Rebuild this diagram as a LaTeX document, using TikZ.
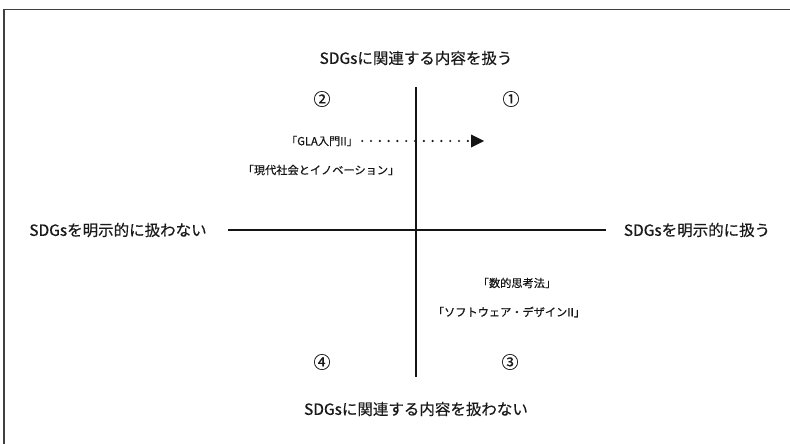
\documentclass[tikz,border=0pt]{standalone}
\usepackage{fontspec}
\setmainfont{Noto Sans CJK JP}
\newfontfamily\jpfont[FakeBold=0.35]{Noto Sans CJK JP}
\usetikzlibrary{arrows.meta}
\begin{document}
\begin{tikzpicture}[x=1pt,y=-1pt,
  axislabel/.style={font=\jpfont\fontsize{15.5}{18}\selectfont, text=black!90, inner sep=0pt},
  course/.style={font=\jpfont\fontsize{11.2}{13}\selectfont, text=black!92, inner sep=0pt},
  quadnum/.style={font=\jpfont\fontsize{17}{19}\selectfont, text=black!90, inner sep=0pt},
  axisline/.style={line width=1.5pt, black!92},
  framebox/.style={line width=1.2pt, black!75},
  dotarrow/.style={line width=2.4pt, line cap=round, dash pattern=on 0pt off 8.8pt, black!90}
]
\useasboundingbox (0,0) rectangle (790,444);
\fill[white] (0,0) rectangle (790,444);
% outer frame (only top and left edges visible)
\coordinate (fbl) at (4,460);
\coordinate (ftl) at (4,9.5);
\coordinate (ftr) at (800,9.5);
\draw[framebox] (fbl) -- (ftl) -- (ftr);
% axes
\coordinate (vtop) at (416,87);
\coordinate (vbot) at (416,377);
\coordinate (hl) at (228,230);
\coordinate (hr) at (606,230);
\draw[axisline] (vtop) -- (vbot);
\draw[axisline] (hl) -- (hr);
% axis labels
\node[axislabel] (top) at (416,58) {SDGsに関連する内容を扱う};
\node[axislabel] (bottom) at (416,409) {SDGsに関連する内容を扱わない};
\node[axislabel] (left) at (118,230) {SDGsを明示的に扱わない};
\node[axislabel] (right) at (697,230) {SDGsを明示的に扱う};
% quadrant numbers
\node[quadnum] (q2) at (322,99) {②};
\node[quadnum] (q1) at (511,99) {①};
\node[quadnum] (q4) at (322,362) {④};
\node[quadnum] (q3) at (510,362) {③};
% courses
\node[course] (gla) at (322,141) {「GLA入門II」};
\node[course] (gendai) at (321,170) {「現代社会とイノベーション」};
\node[course] (suteki) at (517,283) {「数的思考法」};
\node[course] (soft) at (509,312) {「ソフトウェア・デザインII」};
% dotted arrow
\coordinate (arrowend) at (484,141);
\draw[dotarrow] ([xshift=4pt]gla.east) -- ([xshift=-16pt]arrowend);
\fill[black!92] (arrowend) -- ++(-13,-6.5) -- ++(0,13) -- cycle;
\end{tikzpicture}
\end{document}
